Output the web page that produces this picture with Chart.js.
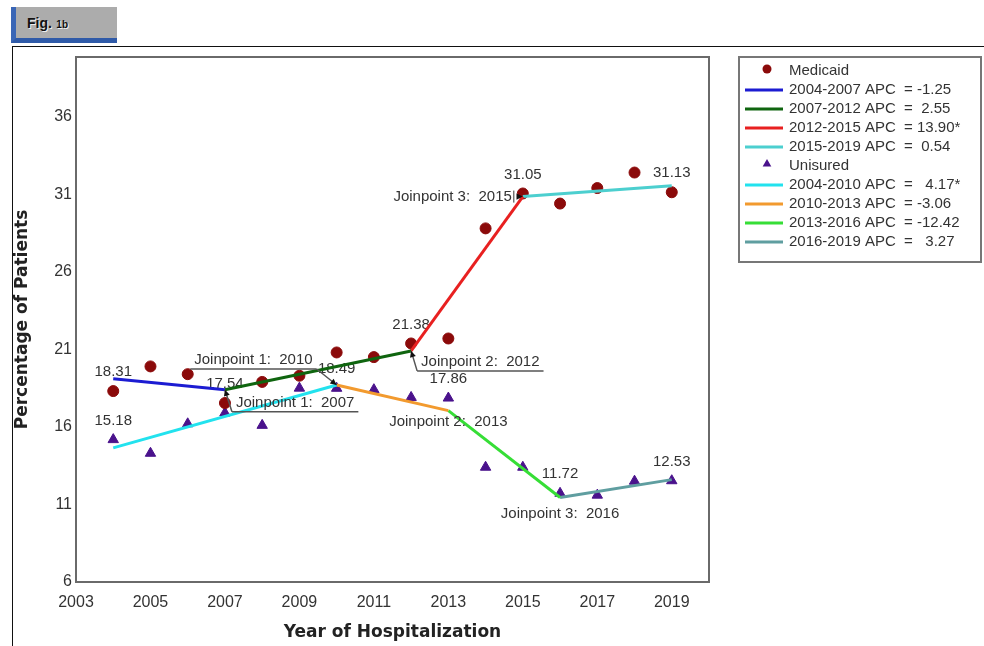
<!DOCTYPE html>
<html>
<head>
<meta charset="utf-8">
<script src="https://cdn.jsdelivr.net/npm/chart.js@4.4.0/dist/chart.umd.min.js"></script>
<style>
  html, body { margin: 0; padding: 0; background: #fff; width: 984px; height: 646px; overflow: hidden; }
  #tab {
    position: absolute; left: 11px; top: 7px; width: 101px; height: 31px;
    background: #acacac; border-left: 5px solid #3a66b6; border-bottom: 5px solid #2f5aa8;
    font-family: "Liberation Sans", Arial, sans-serif; color: #111;
    line-height: 31px; padding-left: 0; box-sizing: content-box;
    text-shadow: 1px 1px 0 #eee;
  }
  #tab b { margin-left: 11px; font-size: 14px; }
  #tab small { font-size: 10px; font-weight: bold; }
  #frame {
    position: absolute; left: 12px; top: 46px; width: 990px; height: 620px;
    border-left: 1px solid #111; border-top: 1px solid #111;
  }
  #wrap { position: absolute; left: 0; top: 0; width: 984px; height: 646px; }
</style>
</head>
<body>
<div id="tab"><b>Fig.</b> <small>1b</small></div>
<div id="frame"></div>
<div id="wrap"><canvas id="jpChart"></canvas></div>

<script>
const years = [2004, 2005, 2006, 2007, 2008, 2009, 2010, 2011, 2012, 2013, 2014, 2015, 2016, 2017, 2018, 2019];
const medicaid  = [18.31, 19.9, 19.4, 17.54, 18.9, 19.3, 20.8, 20.5, 21.38, 21.7, 28.8, 31.05, 30.4, 31.4, 32.4, 31.13];
const uninsured = [15.18, 14.3, 16.2, 16.9, 16.1, 18.5, 18.49, 18.4, 17.9, 17.86, 13.4, 13.4, 11.72, 11.6, 12.5, 12.53];

// joinpoint model: segment ends and fitted values there
const medicaidJoinYears = [2004, 2007, 2012, 2015, 2019];
const medicaidFit       = [19.1, 18.4, 20.9, 30.85, 31.55];
const medicaidSegLabels = ['2004-2007 APC  = -1.25', '2007-2012 APC  =  2.55', '2012-2015 APC  = 13.90*', '2015-2019 APC  =  0.54'];

const uninsuredJoinYears = [2004, 2010, 2013, 2016, 2019];
const uninsuredFit       = [14.65, 18.7, 17.05, 11.45, 12.6];
const uninsuredSegLabels = ['2004-2010 APC  =   4.17*', '2010-2013 APC  = -3.06', '2013-2016 APC  = -12.42', '2016-2019 APC  =   3.27'];

const xTicks = [2003, 2005, 2007, 2009, 2011, 2013, 2015, 2017, 2019];
const yTicks = [6, 11, 16, 21, 26, 31, 36];

const medicaidSegColors  = ['#1c1cd2', '#0f650f', '#e82020', '#4ccfcf'];
const uninsuredSegColors = ['#22e2ee', '#f29a2e', '#36de36', '#5f9ea0'];

const TXT = '#333';
const SANS = '"Liberation Sans", Arial, sans-serif';

function points(xs, ys) {
    return xs.map((x, i) => ({ x: x, y: ys[i] }));
}

function segments(joinYears, fit, labels, colors) {
    return labels.map((label, i) => ({
        type: 'line',
        label: label,
        data: points(joinYears.slice(i, i + 2), fit.slice(i, i + 2)),
        borderColor: colors[i],
        backgroundColor: colors[i],
        borderWidth: 3,
        pointRadius: 0,
        fill: false,
        order: 1
    }));
}

const datasets = [
    {
        type: 'scatter', label: 'Medicaid', data: points(years, medicaid),
        pointStyle: 'circle', pointRadius: 5.5, backgroundColor: '#8b0a0a', borderColor: '#8b0a0a', order: 2
    },
    ...segments(medicaidJoinYears, medicaidFit, medicaidSegLabels, medicaidSegColors),
    {
        type: 'scatter', label: 'Unisured', data: points(years, uninsured),
        pointStyle: 'triangle', pointRadius: 6, backgroundColor: '#4a128c', borderColor: '#4a128c', order: 2
    },
    ...segments(uninsuredJoinYears, uninsuredFit, uninsuredSegLabels, uninsuredSegColors)
];

// where each joinpoint caption sits relative to its fitted point (style only)
const jpPlacement = {
    medicaid: [
        { dx: 11, dy: 13, align: 'left', underline: true },
        { dx: 10, dy: 11, align: 'left', underline: true },
        { dx: -11, dy: 0, align: 'right', arrow: true }
    ],
    uninsured: [
        { dx: -24, dy: -25, align: 'right', underline: true },
        { dx: 0, dy: 11, align: 'center' },
        { dx: 0, dy: 16, align: 'center' }
    ]
};

function arrowHead(ctx, fx, fy, tx, ty) {
    const a = Math.atan2(ty - fy, tx - fx);
    const s = 7;
    ctx.beginPath();
    ctx.moveTo(tx, ty);
    ctx.lineTo(tx - s * Math.cos(a - 0.45), ty - s * Math.sin(a - 0.45));
    ctx.lineTo(tx - s * Math.cos(a + 0.45), ty - s * Math.sin(a + 0.45));
    ctx.closePath();
    ctx.fillStyle = '#111';
    ctx.fill();
}

function drawJoinpoints(chart, joinYears, fit, places) {
    const ctx = chart.ctx;
    const xs = chart.scales.x, ys = chart.scales.y;
    ctx.font = '15px ' + SANS;
    ctx.textBaseline = 'middle';
    places.forEach((p, k) => {
        const year = joinYears[k + 1];
        const px = xs.getPixelForValue(year);
        const py = ys.getPixelForValue(fit[k + 1]);
        const text = 'Joinpoint ' + (k + 1) + ':  ' + year;
        const w = ctx.measureText(text).width;
        let left;
        if (p.align === 'left') left = px + p.dx;
        else if (p.align === 'right') left = px + p.dx - w;
        else left = px + p.dx - w / 2;
        const ty = py + p.dy;
        ctx.fillStyle = TXT;
        ctx.textAlign = 'left';
        ctx.fillText(text, left, ty);
        if (p.underline) {
            const uy = ty + 9;
            const u0 = left - 4, u1 = left + w + 4;
            ctx.strokeStyle = '#555';
            ctx.lineWidth = 1.5;
            ctx.beginPath();
            ctx.moveTo(u0, uy);
            ctx.lineTo(u1, uy);
            const ex = Math.abs(u0 - px) < Math.abs(u1 - px) ? u0 : u1;
            ctx.moveTo(ex, uy);
            ctx.lineTo(px, py);
            ctx.stroke();
            arrowHead(ctx, ex, uy, px, py);
        }
        if (p.arrow) {
            ctx.strokeStyle = '#333';
            ctx.lineWidth = 1;
            ctx.beginPath();
            ctx.moveTo(px - 9, py - 6);
            ctx.lineTo(px - 9, py + 6);
            ctx.stroke();
            arrowHead(ctx, px - 9, py, px, py);
        }
    });
}

function drawValueLabels(chart, joinYears, values) {
    const ctx = chart.ctx;
    const xs = chart.scales.x, ys = chart.scales.y;
    ctx.font = '15px ' + SANS;
    ctx.fillStyle = TXT;
    ctx.textAlign = 'center';
    ctx.textBaseline = 'middle';
    joinYears.forEach(year => {
        const v = values[years.indexOf(year)];
        ctx.fillText(v.toFixed(2), xs.getPixelForValue(year), ys.getPixelForValue(v) - 19);
    });
}

function drawLegend(chart) {
    const ctx = chart.ctx;
    const area = chart.chartArea;
    const left = area.right + 30, top = area.top;
    const right = chart.width - 3;
    const rowH = 19;
    const sets = chart.data.datasets;
    const height = 14 + (sets.length - 1) * rowH + 20;
    ctx.save();
    ctx.strokeStyle = '#777';
    ctx.lineWidth = 2;
    ctx.strokeRect(left, top, right - left, height);
    ctx.font = '15px ' + SANS;
    ctx.textAlign = 'left';
    ctx.textBaseline = 'middle';
    sets.forEach((ds, i) => {
        const y = top + 14 + i * rowH;
        if (ds.type === 'scatter') {
            ctx.fillStyle = ds.backgroundColor;
            ctx.beginPath();
            if (ds.pointStyle === 'circle') {
                ctx.arc(left + 28, y - 2, 4.5, 0, Math.PI * 2);
            } else {
                const r = 5;
                ctx.moveTo(left + 28, y - 2 - r);
                ctx.lineTo(left + 28 + r * 0.866, y - 2 + r * 0.5);
                ctx.lineTo(left + 28 - r * 0.866, y - 2 + r * 0.5);
                ctx.closePath();
            }
            ctx.fill();
        } else {
            ctx.strokeStyle = ds.borderColor;
            ctx.lineWidth = 3;
            ctx.beginPath();
            ctx.moveTo(left + 6, y);
            ctx.lineTo(left + 44, y);
            ctx.stroke();
        }
        ctx.fillStyle = TXT;
        ctx.fillText(ds.label, left + 50, y);
    });
    ctx.restore();
}

const annotate = {
    id: 'annotate',
    beforeDatasetsDraw(chart) {
        const ctx = chart.ctx;
        const a = chart.chartArea;
        ctx.save();
        ctx.strokeStyle = '#6a6a6a';
        ctx.lineWidth = 2;
        ctx.strokeRect(a.left, a.top, a.right - a.left, a.bottom - a.top);
        drawValueLabels(chart, medicaidJoinYears, medicaid);
        drawValueLabels(chart, uninsuredJoinYears, uninsured);
        ctx.restore();
    },
    afterDatasetsDraw(chart) {
        chart.ctx.save();
        drawJoinpoints(chart, medicaidJoinYears, medicaidFit, jpPlacement.medicaid);
        drawJoinpoints(chart, uninsuredJoinYears, uninsuredFit, jpPlacement.uninsured);
        chart.ctx.restore();
    },
    afterDraw(chart) {
        drawLegend(chart);
    }
};

const ctx = document.getElementById('jpChart').getContext('2d');
new Chart(ctx, {
    data: { datasets: datasets },
    plugins: [annotate],
    options: {
        responsive: true,
        maintainAspectRatio: false,
        animation: false,
        layout: { padding: { left: 0, top: 57, right: 275, bottom: 0 } },
        plugins: {
            legend: { display: false },
            tooltip: { enabled: false }
        },
        scales: {
            x: {
                type: 'linear',
                min: 2003,
                max: 2020,
                grid: { display: false, drawTicks: false },
                border: { display: false },
                afterBuildTicks: (scale) => { scale.ticks = xTicks.map(v => ({ value: v })); },
                afterFit: (scale) => { scale.height = 64; },
                ticks: {
                    color: TXT, padding: 11,
                    font: { family: SANS, size: 16 },
                    callback: (v) => String(v)
                },
                title: {
                    display: true, text: 'Year of Hospitalization', color: '#222',
                    font: { family: '"DejaVu Sans", Verdana, sans-serif', size: 17, weight: 'bold' },
                    padding: { top: 0, bottom: 3 }
                }
            },
            y: {
                type: 'linear',
                min: 6,
                max: 39.85,
                grid: { display: false, drawTicks: false },
                border: { display: false },
                afterBuildTicks: (scale) => { scale.ticks = yTicks.map(v => ({ value: v })); },
                afterFit: (scale) => { scale.width = 76; },
                ticks: {
                    color: TXT, padding: 4,
                    font: { family: SANS, size: 16 },
                    callback: (v) => String(v)
                },
                title: {
                    display: true, text: 'Percentage of Patients', color: '#222',
                    font: { family: '"DejaVu Sans", Verdana, sans-serif', size: 17, weight: 'bold' },
                    padding: { top: 12, bottom: 0 }
                }
            }
        }
    }
});
</script>
</body>
</html>
